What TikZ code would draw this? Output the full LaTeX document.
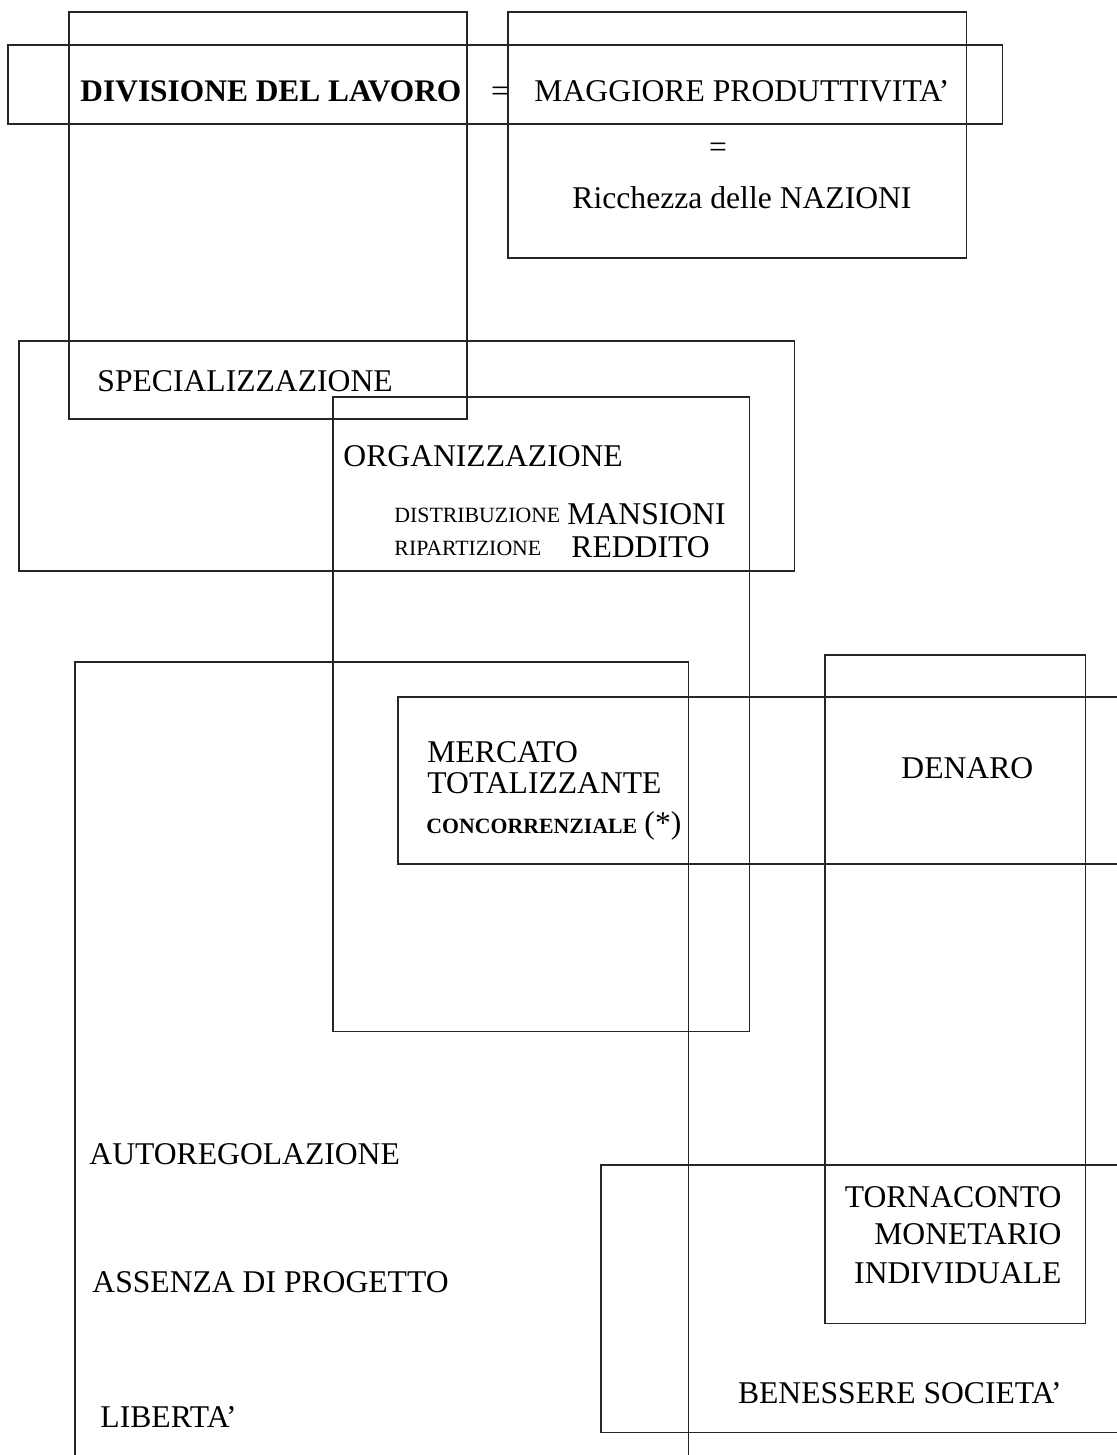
\documentclass[tikz,border=0pt]{standalone}
\usepackage{fontspec}
\setmainfont{Liberation Serif}
\usepackage{tikz}

\begin{document}
\begin{tikzpicture}[x=0.015cm, y=-0.015cm, font=\fontsize{13.5}{16}\selectfont]
\tikzstyle{box}=[draw, black!85, line width=0.45pt, inner sep=0, outer sep=0, anchor=north west]
\tikzstyle{txt}=[inner sep=0, anchor=base west]
\tikzstyle{rtxt}=[inner sep=0, anchor=base east]
\tikzstyle{small}=[txt, font=\fontsize{9.3}{11}\selectfont]

\useasboundingbox (0,0) rectangle (1116,1455);

\node[box, minimum width=5.97cm, minimum height=6.105cm] (divbox) at (69,12) {};
\node[box, minimum width=6.87cm, minimum height=3.69cm] (ricbox) at (508,12) {};
\node[box, minimum width=14.91cm, minimum height=1.185cm] (topbox) at (8,45) {};
\node[box, minimum width=11.625cm, minimum height=3.45cm] (specbox) at (19,341) {};
\node[box, minimum width=6.24cm, minimum height=9.51cm] (orgbox) at (333,397) {};
\node[box, minimum width=9.195cm, minimum height=12.3cm] (autobox) at (75,662) {};
\node[box, minimum width=11.1cm, minimum height=2.505cm] (mercbox) at (398,697) {};
\node[box, minimum width=3.9cm, minimum height=10.02cm] (denbox) at (825,655) {};
\node[box, minimum width=8.1cm, minimum height=4.005cm] (benbox) at (601,1165) {};

\node[txt, font=\fontsize{13.4}{16}\selectfont\bfseries] (div) at (80,102) {DIVISIONE DEL LAVORO};
\node[inner sep=0] (eqa) at (500,94) {=};
\node[txt] (magg) at (534,102) {MAGGIORE PRODUTTIVITA’};
\node[inner sep=0] (eqb) at (718,150) {=};
\node[txt] (ricch) at (572,209) {Ricchezza delle NAZIONI};
\node[txt] (spec) at (97,392) {SPECIALIZZAZIONE};
\node[txt] (org) at (343,467) {ORGANIZZAZIONE};
\node[small] (distr) at (394,523) {DISTRIBUZIONE};
\node[txt] (mans) at (567,525) {MANSIONI};
\node[small] (ripart) at (394,556) {RIPARTIZIONE};
\node[txt] (redd) at (571,557) {REDDITO};
\node[txt] (merc) at (427,762) {MERCATO};
\node[txt] (total) at (427,793) {TOTALIZZANTE};
\node[small, font=\fontsize{9.3}{11}\selectfont\bfseries] (conc) at (426,833) {CONCORRENZIALE};
\node[txt] (ast) at (644,833) {(*)};
\node[txt] (den) at (901,778) {DENARO};
\node[txt] (auto) at (89,1164) {AUTOREGOLAZIONE};
\node[txt] (ass) at (92,1292) {ASSENZA DI PROGETTO};
\node[txt] (lib) at (100,1427) {LIBERTA’};
\node[rtxt] (torn) at (1062,1207) {TORNACONTO};
\node[rtxt] (mon) at (1062,1244) {MONETARIO};
\node[rtxt] (indiv) at (1062,1283) {INDIVIDUALE};
\node[rtxt] (ben) at (1062,1403) {BENESSERE SOCIETA’};
\end{tikzpicture}
\end{document}
